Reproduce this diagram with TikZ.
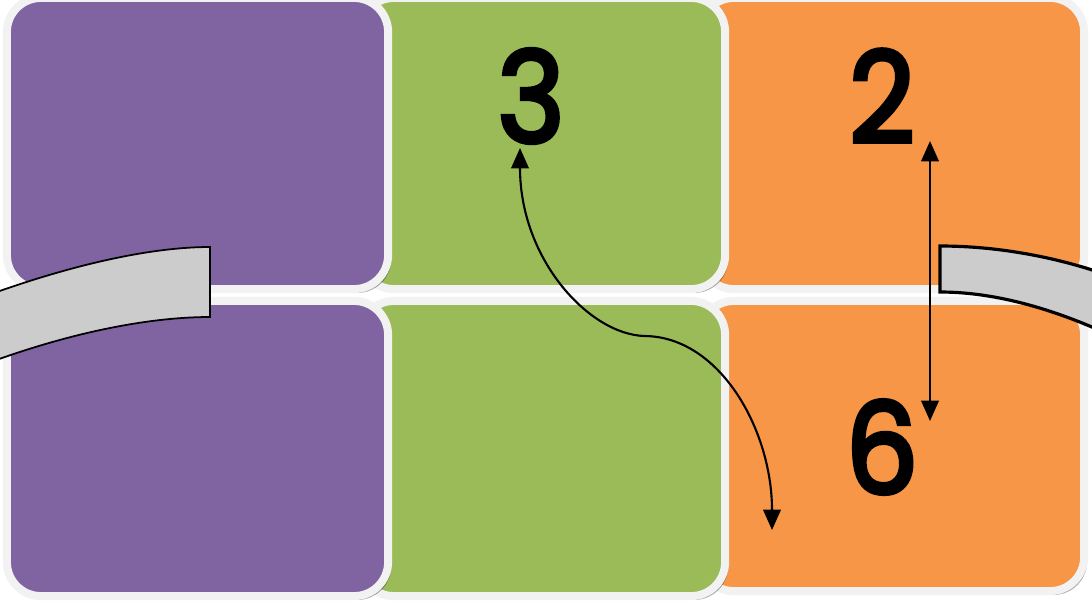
\documentclass[tikz,border=0pt]{standalone}
\usepackage{fontspec}
\setmainfont{Poppins}
\newfontfamily\numfont[FakeBold=3.5, FakeStretch=0.9]{Poppins}
\usetikzlibrary{arrows.meta, shadows}

\definecolor{purpbox}{HTML}{8064A2}
\definecolor{greenbox}{HTML}{9BBB59}
\definecolor{orangebox}{HTML}{F79646}
\definecolor{rimwhite}{HTML}{F2F2F2}
\definecolor{bandgrey}{HTML}{CCCCCC}

\tikzset{
    panel/.style={rectangle, draw=rimwhite, line width=0.08cm, rounded corners=0.34cm,
        inner sep=0pt, drop shadow={shadow xshift=0.9pt, shadow yshift=-1.1pt, fill=black, opacity=0.35}},
    band/.style={fill=bandgrey, draw=black},
    link/.style={line width=0.6pt, {Triangle[length=5.8pt,width=5pt]}-{Triangle[length=5.8pt,width=5pt]}},
    numlabel/.style={inner sep=0pt, font=\fontsize{36}{36}\numfont}
}

\begin{document}
\begin{tikzpicture}[x=0.01cm, y=-0.01cm]
    \useasboundingbox (0,0) rectangle (1092,606);
    \clip (0,0) rectangle (1092,606);

    % Draw nodes
    \node[panel, fill=orangebox, minimum width=3.84cm, minimum height=2.91cm] (o1) at (892,143.5) {};
    \node[panel, fill=orangebox, minimum width=3.84cm, minimum height=2.90cm] (o2) at (892,446) {};
    \node[panel, fill=greenbox, minimum width=3.65cm, minimum height=2.91cm] (g1) at (542.5,143.5) {};
    \node[panel, fill=greenbox, minimum width=3.65cm, minimum height=2.95cm] (g2) at (542.5,448.5) {};
    \node[panel, fill=purpbox, minimum width=3.81cm, minimum height=2.91cm] (p1) at (197.5,143.5) {};
    \node[panel, fill=purpbox, minimum width=3.81cm, minimum height=2.95cm] (p2) at (197.5,448.5) {};

    % Bands
    \draw[band, line width=0.5pt] (-20,298) .. controls (70,265) and (150,247) .. (210,247)
        -- (210,317) .. controls (150,317) and (70,332) .. (-20,366) -- cycle;
    \draw[band, line width=0.9pt] (940,246) .. controls (1000,246) and (1060,258) .. (1110,276)
        -- (1110,335) .. controls (1060,312) and (1000,292) .. (940,292) -- cycle;

    % Labels
    \node[numlabel] (n3) at (531,96) {3};
    \node[numlabel] (n2) at (882,96) {2};
    \node[numlabel] (n6) at (882,447) {6};

    % Draw connections
    \coordinate (c3) at (520,148);
    \coordinate (cm) at (645,336);
    \coordinate (c4) at (772,530);
    \coordinate (c2) at (930,141);
    \coordinate (c6) at (930,421);
    \draw[link] (c3) .. controls (520,260) and (590,335) .. (cm)
        .. controls (720,337) and (772,430) .. (c4);
    \draw[link] (c2) -- (c6);
\end{tikzpicture}
\end{document}
